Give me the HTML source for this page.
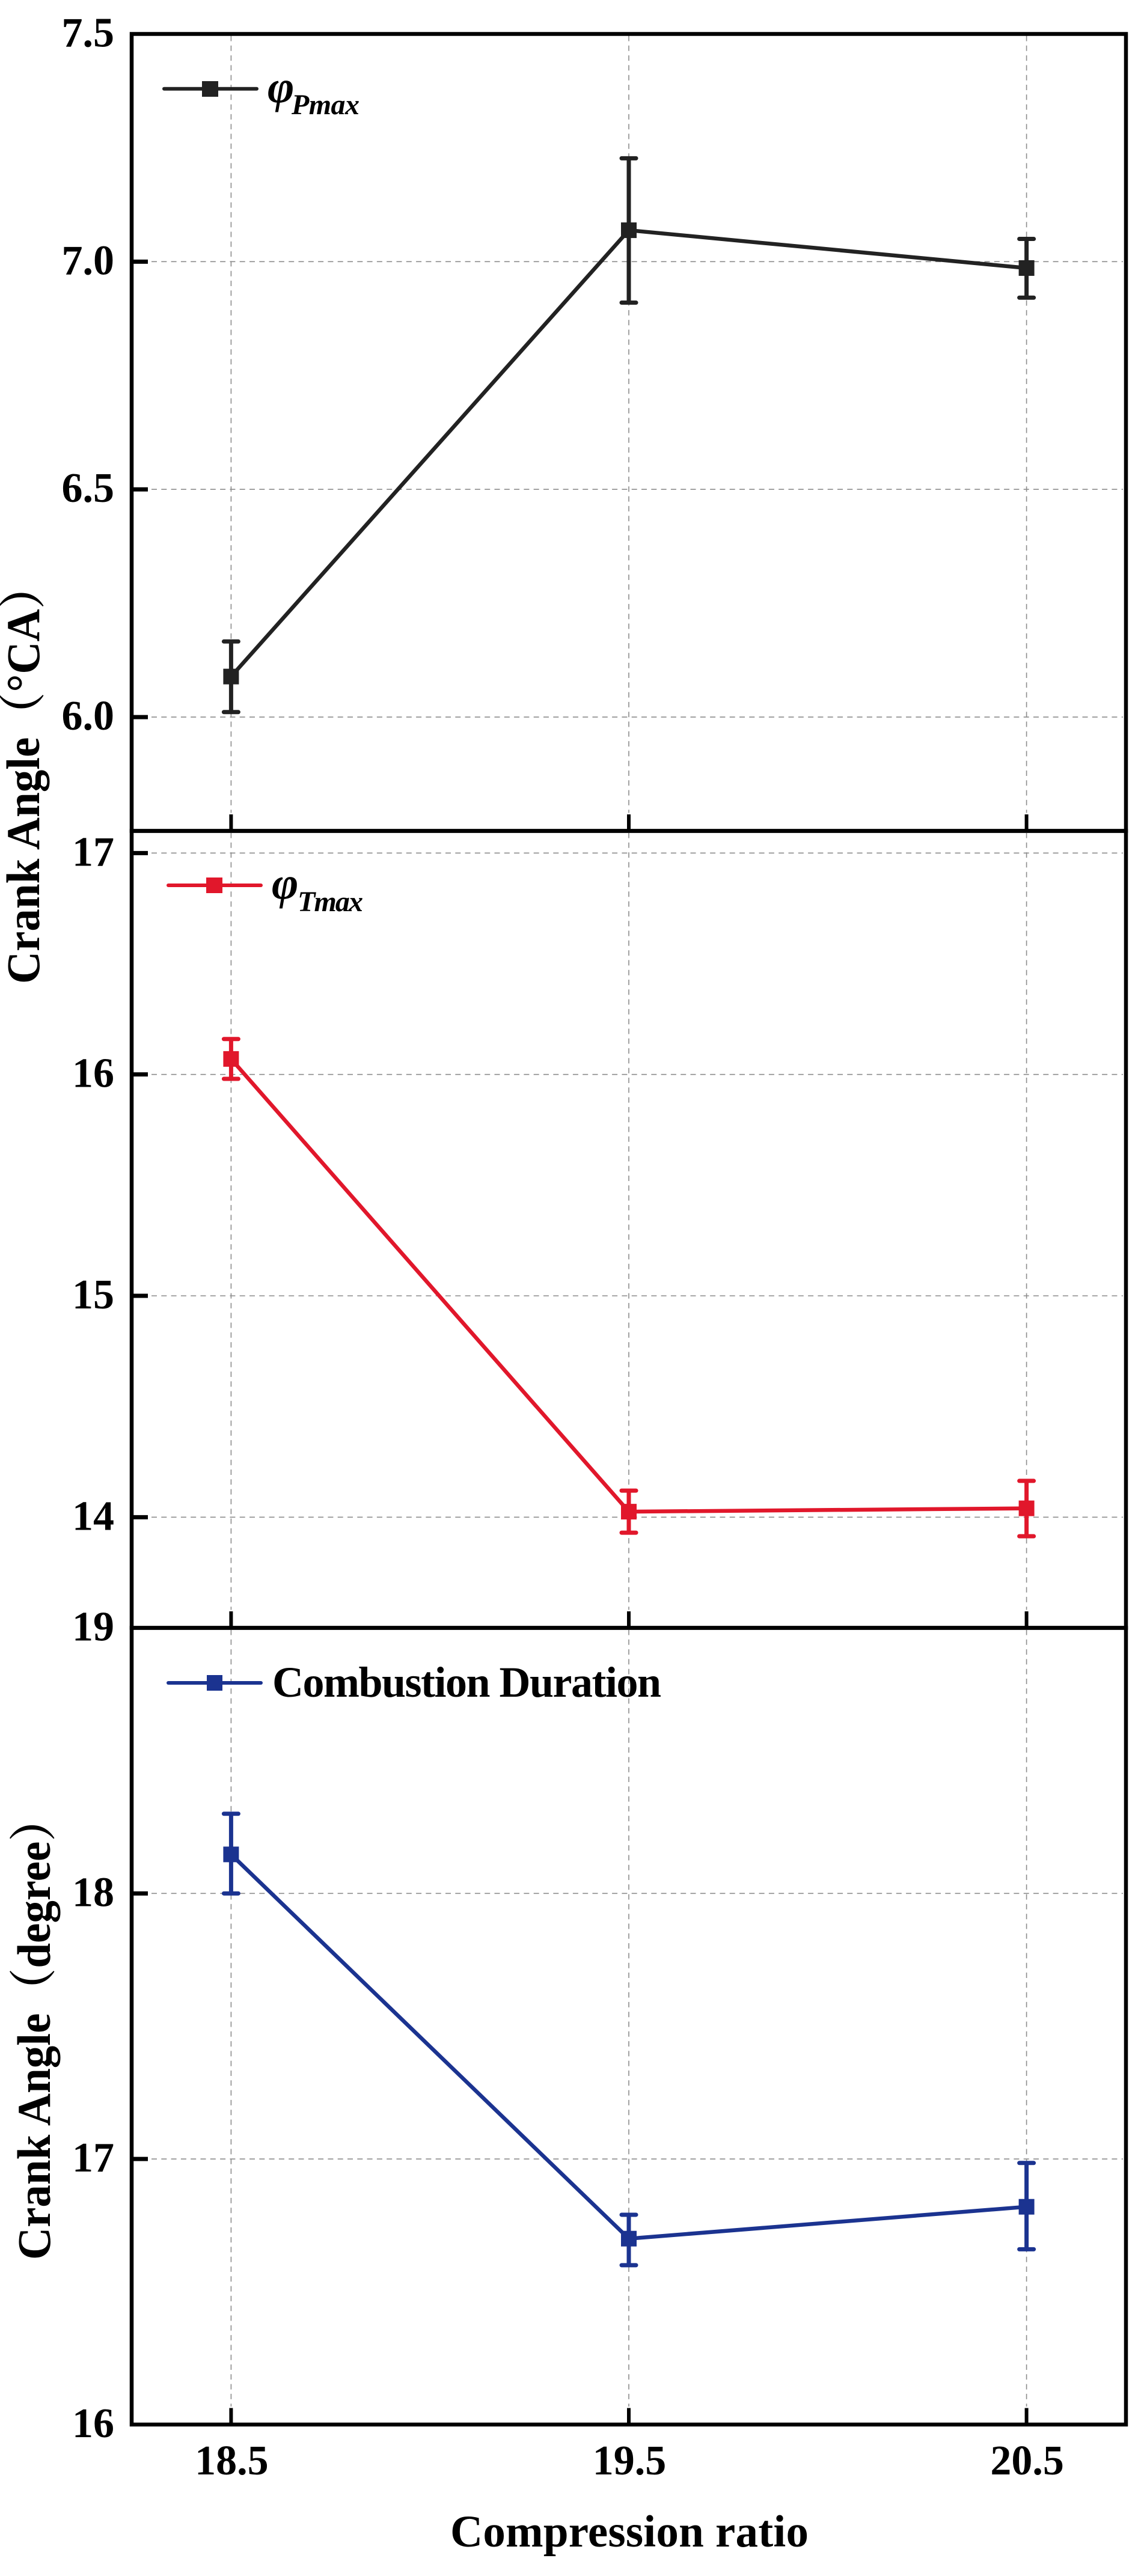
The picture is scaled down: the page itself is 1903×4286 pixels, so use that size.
<!DOCTYPE html>
<html lang="en">
<head>
<meta charset="utf-8">
<title>Crank angle vs compression ratio</title>
<style>
  html, body { margin: 0; padding: 0; background: #ffffff; }
  svg { display: block; }
  text { font-family: "Liberation Serif", "Noto Serif CJK SC", serif; font-weight: bold; fill: #000; }
</style>
</head>
<body>
<svg id="chart" xmlns="http://www.w3.org/2000/svg" width="1903" height="4286" viewBox="0 0 1903 4286">
  <rect x="0" y="0" width="1903" height="4286" fill="#ffffff"/>
  <g id="plots"></g>

  <g>
    <line x1="273" y1="147.7" x2="427" y2="147.7" stroke="#222222" stroke-width="6" stroke-linecap="round"/>
    <rect x="336" y="135" width="27" height="26" fill="#222222"/>
    <text x="445" y="170" font-size="76" font-style="italic">φ</text>
    <text x="485" y="190" font-size="48" font-style="italic" textLength="113">Pmax</text>
  </g>
  <g>
    <line x1="280" y1="1473" x2="434" y2="1473" stroke="#E1172B" stroke-width="6" stroke-linecap="round"/>
    <rect x="343" y="1460" width="27" height="26" fill="#E1172B"/>
    <text x="452" y="1495" font-size="76" font-style="italic">φ</text>
    <text x="495" y="1516" font-size="48" font-style="italic" textLength="109">Tmax</text>
  </g>
  <g>
    <line x1="280" y1="2800" x2="434" y2="2800" stroke="#1B3390" stroke-width="6" stroke-linecap="round"/>
    <rect x="344" y="2787" width="26" height="26" fill="#1B3390"/>
    <text x="453" y="2823" font-size="72" textLength="647">Combustion Duration</text>
  </g>

  <text transform="translate(65 1637) rotate(-90) scale(1 1.05)" x="0" y="0" font-size="75">Crank Angle（°CA）</text>
  <text transform="translate(83 3760) rotate(-90) scale(1 1.05)" x="0" y="0" font-size="75">Crank Angle（degree）</text>
  <text x="749" y="4237" font-size="75" textLength="596">Compression ratio</text>
</svg>

<script>
const categories = [18.5, 19.5, 20.5];
const categoryLabels = ['18.5', '19.5', '20.5'];

const pmaxValues = [6.089, 7.069, 6.986];
const pmaxUpper = [6.166, 7.227, 7.05];
const pmaxLower = [6.011, 6.91, 6.921];
const pmaxTicks = [6, 6.5, 7, 7.5];
const pmaxTickLabels = ['6.0', '6.5', '7.0', '7.5'];

const tmaxValues = [16.07, 14.025, 14.04];
const tmaxUpper = [16.16, 14.12, 14.164];
const tmaxLower = [15.98, 13.93, 13.914];
const tmaxTicks = [14, 15, 16, 17];
const tmaxTickLabels = ['14', '15', '16', '17'];

const durationValues = [18.147, 16.70, 16.82];
const durationUpper = [18.30, 16.79, 16.985];
const durationLower = [18.0, 16.60, 16.66];
const durationTicks = [16, 17, 18, 19];
const durationTickLabels = ['16', '17', '18', '19'];

const xDomain = [18.25, 20.75];
const pmaxDomain = [5.75, 7.5];
const tmaxDomain = [13.5, 17.1];
const durationDomain = [16, 19];

const NS = 'http://www.w3.org/2000/svg';
const plots = document.getElementById('plots');
const LEFT = 219, RIGHT = 1873;

function xScale(v) {
  return LEFT + (v - xDomain[0]) / (xDomain[1] - xDomain[0]) * (RIGHT - LEFT);
}
function yScaleFor(domain, top, bottom) {
  return function (v) {
    return bottom - (v - domain[0]) / (domain[1] - domain[0]) * (bottom - top);
  };
}
function make(tag, parent, attrs) {
  const el = document.createElementNS(NS, tag);
  for (const k in attrs) el.setAttribute(k, attrs[k]);
  parent.appendChild(el);
  return el;
}

function drawPanel(cfg) {
  const y = yScaleFor(cfg.domain, cfg.top, cfg.bottom);
  const g = make('g', plots, {});
  
  

  // vertical grid lines
  categories.forEach(function (c) {
    const grid = make('line', g, { x1: xScale(c), x2: xScale(c), y1: cfg.top + 3, y2: cfg.bottom - 30, stroke: '#8c8c8c', 'stroke-width': 1.6, 'stroke-dasharray': '9 7.3' });
    
    
  });

  // horizontal grid lines and y ticks
  cfg.ticks.forEach(function (t, i) {
    const py = y(t);
    const isEdge = Math.abs(py - cfg.top) < 1 || Math.abs(py - cfg.bottom) < 1;
    if (!isEdge) {
      const grid = make('line', g, { x1: 252, x2: 1868, y1: py, y2: py, stroke: '#8c8c8c', 'stroke-width': 1.6, 'stroke-dasharray': '9 7.3' });
      
      
      const tick = make('line', g, { x1: LEFT, x2: 246, y1: py, y2: py, stroke: '#000000', 'stroke-width': 7 });
      
      
    }
    const label = make('text', g, { x: 190, y: py + 21, 'font-size': 70, 'text-anchor': 'end' });
    
    
    label.textContent = cfg.tickLabels[i];
  });

  // x ticks
  categories.forEach(function (c) {
    const tick = make('line', g, { x1: xScale(c), x2: xScale(c), y1: cfg.bottom - 27.5, y2: cfg.bottom, stroke: '#000000', 'stroke-width': 6 });
    
    
  });

  // frame
  const frame = make('rect', g, { x: LEFT, y: cfg.top, width: RIGHT - LEFT, height: cfg.bottom - cfg.top, fill: 'none', stroke: '#000000', 'stroke-width': 6.5, 'stroke-linejoin': 'miter' });
  
  

  // series line
  const points = categories.map(function (c, i) { return xScale(c) + ',' + y(cfg.values[i]); }).join(' ');
  const line = make('polyline', g, { points: points, fill: 'none', stroke: cfg.color, 'stroke-width': 6.5 });
  
  

  // error bars and markers
  categories.forEach(function (c, i) {
    const px = xScale(c);
    const stem = make('line', g, { x1: px, x2: px, y1: y(cfg.upper[i]), y2: y(cfg.lower[i]), stroke: cfg.color, 'stroke-width': 7 });
    
    

    const capTop = make('line', g, { x1: px - 12, x2: px + 12, y1: y(cfg.upper[i]), y2: y(cfg.upper[i]), stroke: cfg.color, 'stroke-width': 7, 'stroke-linecap': 'round' });
    
    

    const capBottom = make('line', g, { x1: px - 12, x2: px + 12, y1: y(cfg.lower[i]), y2: y(cfg.lower[i]), stroke: cfg.color, 'stroke-width': 7, 'stroke-linecap': 'round' });
    
    

    const marker = make('rect', g, { x: px - 13, y: y(cfg.values[i]) - 13, width: 26, height: 26, fill: cfg.color });
    
    
  });

  // x tick labels on the bottom panel
  if (cfg.showXLabels) {
    categories.forEach(function (c, i) {
      const label = make('text', g, { x: xScale(c) + 1, y: 4117, 'font-size': 70, 'text-anchor': 'middle' });
      
      
      label.textContent = categoryLabels[i];
    });
  }
}

drawPanel({ name: 'pmax', domain: pmaxDomain, top: 56.5, bottom: 1382.5, color: '#222222', values: pmaxValues, upper: pmaxUpper, lower: pmaxLower, ticks: pmaxTicks, tickLabels: pmaxTickLabels, showXLabels: false });
drawPanel({ name: 'tmax', domain: tmaxDomain, top: 1382.5, bottom: 2708.5, color: '#E1172B', values: tmaxValues, upper: tmaxUpper, lower: tmaxLower, ticks: tmaxTicks, tickLabels: tmaxTickLabels, showXLabels: false });
drawPanel({ name: 'duration', domain: durationDomain, top: 2708.5, bottom: 4034, color: '#1B3390', values: durationValues, upper: durationUpper, lower: durationLower, ticks: durationTicks, tickLabels: durationTickLabels, showXLabels: true });
</script>
</body>
</html>
